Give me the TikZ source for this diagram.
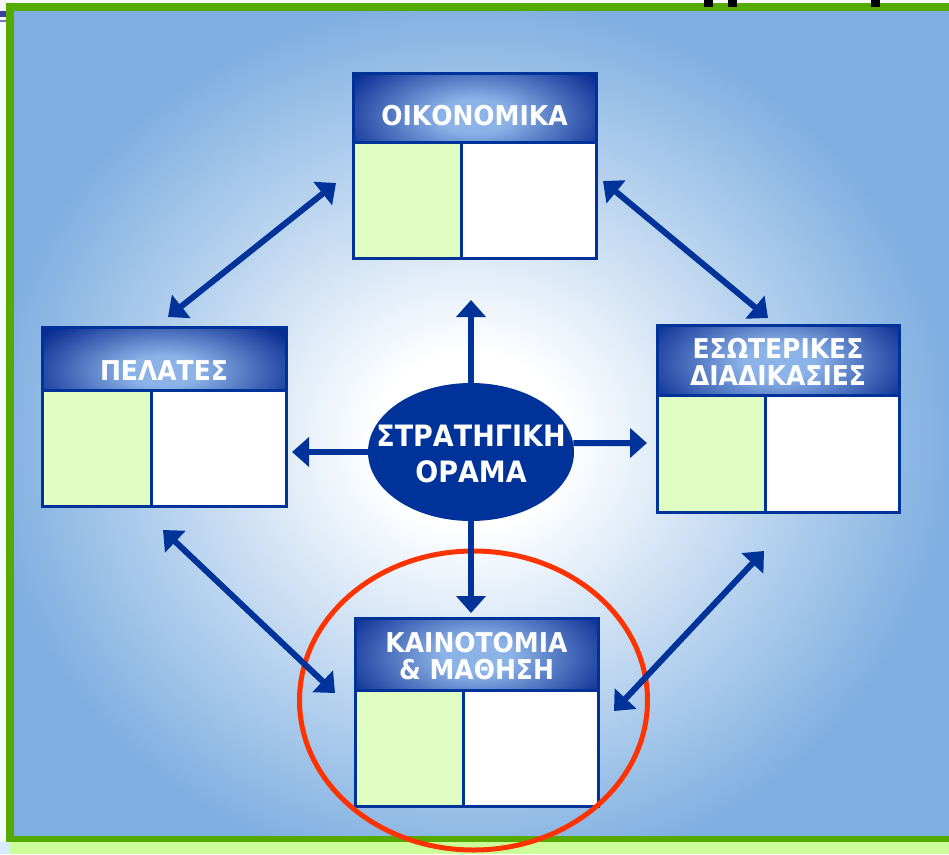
\documentclass[tikz,border=0pt]{standalone}
\usepackage{fontspec}
\newfontfamily\lblfont{DejaVu Sans}
\usetikzlibrary{arrows.meta,shapes.geometric}

\definecolor{navy}{HTML}{003399}
\definecolor{hdrblue}{HTML}{0A2D93}
\definecolor{glowblue}{HTML}{8CB3E8}
\definecolor{panelgreen}{HTML}{E0FDC2}
\definecolor{framegreen}{HTML}{55AA00}
\definecolor{bandgreen}{HTML}{CCFF99}
\definecolor{skyblue}{HTML}{7FAFE1}
\definecolor{ringred}{HTML}{FF3300}
\definecolor{paper}{HTML}{F4F8FD}
\definecolor{edgeblue}{HTML}{D6EBFF}
\definecolor{tabblue}{HTML}{3A40A0}

% soft white glow in the middle of the blue field
\pgfdeclareradialshading{fieldglow}{\pgfpoint{0bp}{0bp}}{%
  color(0bp)=(white); color(5bp)=(white); color(25bp)=(skyblue); color(50bp)=(skyblue)}
% light spot behind the header captions
\pgfdeclareradialshading{hdrglow}{\pgfpoint{0bp}{0bp}}{%
  color(0bp)=(glowblue); color(6bp)=(glowblue); color(25bp)=(hdrblue); color(50bp)=(hdrblue)}

\newcommand{\tallcap}[1]{\scalebox{1}[1.09]{#1}}

\tikzset{
  hdrtext/.style={text=white, align=center, inner sep=0pt,
    font=\lblfont\bfseries\fontsize{25}{26.5}\selectfont},
  panelbox/.style={rectangle, draw=navy, line width=3pt, inner sep=0pt, outer sep=0pt},
  dblarrow/.style={draw=navy, line width=6pt,
    {Triangle[length=17pt,width=29pt]}-{Triangle[length=17pt,width=29pt]}},
  rayarrow/.style={draw=navy, line width=6pt, -{Triangle[length=17pt,width=29pt]}},
}

% #1 name, #2 left, #3 top, #4 header bottom, #5 divider, #6 right, #7 bottom,
% #8 caption, #9 caption centre (vertical)
\newcommand{\bscpanel}[9]{%
  \fill[hdrblue] (#2,#3) rectangle (#6,#4);
  \begin{scope}
    \clip (#2,#3) rectangle (#6,#4);
    \shade[shading=hdrglow]
      ({(#2+#6)/2-0.6*(#6-#2)},{#9-1.0*(#4-#3)}) rectangle
      ({(#2+#6)/2+0.6*(#6-#2)},{#9+1.0*(#4-#3)});
  \end{scope}
  \node[hdrtext] (#1) at ({(#2+#6)/2},{#9}) {#8};
  \node[panelbox, fill=panelgreen, anchor=north west,
    minimum width={(#5-#2)*1pt}, minimum height={(#7-#4)*1pt}] (#1-l) at (#2,#4) {};
  \node[panelbox, fill=white, anchor=north west,
    minimum width={(#6-#5)*1pt}, minimum height={(#7-#4)*1pt}] (#1-r) at (#5,#4) {};
  \draw[navy, line width=3pt] (#2,#3) rectangle (#6,#7);
}

\begin{document}
\begin{tikzpicture}[x=1pt, y=-1pt]
  \useasboundingbox (0,0) rectangle (949,854);

  % page, frame and field
  \fill[paper] (0,0) rectangle (949,854);
  \fill[edgeblue] (0,842) rectangle (9,854);
  \fill[bandgreen] (9,842) rectangle (949,854);
  \fill[framegreen] (6,3) rectangle (949,842);
  \fill[skyblue] (14,11) rectangle (949,835);
  \begin{scope}
    \clip (14,11) rectangle (949,835);
    \shade[shading=fieldglow] (-10,0) rectangle (950,880);
  \end{scope}
  \fill[tabblue] (0,11) rectangle (6,17);
  \fill[tabblue!70!white] (0,20) rectangle (6,22);
  \fill[black] (704,0) rectangle (713,7);
  \fill[black] (728,0) rectangle (737,7);
  \fill[black] (871,0) rectangle (880,7);

  % the four perspectives
  \bscpanel{econ}{353}{73}{142}{461}{596}{258}{\tallcap{ΟΙΚΟΝΟΜΙΚΑ}}{116}
  \bscpanel{cust}{42}{327}{390}{151}{286}{506}{\tallcap{ΠΕΛΑΤΕΣ}}{371}
  \bscpanel{proc}{657}{325}{395}{765}{899}{512}{\tallcap{ΕΣΩΤΕΡΙΚΕΣ}\\\tallcap{ΔΙΑΔΙΚΑΣΙΕΣ}}{362}
  \bscpanel{learn}{355}{618}{690}{463}{598}{806}{\tallcap{ΚΑΙΝΟΤΟΜΙΑ}\\\tallcap{\&~ΜΑΘΗΣΗ}}{656}

  % strategy in the centre
  \node[ellipse, fill=navy, minimum width=206pt, minimum height=138pt, inner sep=0pt]
    (vision) at (471,452) {};
  \node[text=white, align=center, inner sep=0pt,
    font=\lblfont\bfseries\fontsize{27}{36}\selectfont]
    (vision-text) at (471,454) {\tallcap{ΣΤΡΑΤΗΓΙΚΗ}\\\tallcap{ΟΡΑΜΑ}};

  % highlight ring round the learning perspective
  \node[ellipse, draw=ringred, line width=5pt, minimum width=348pt,
    minimum height=299pt, inner sep=0pt] (ring) at (473.5,700.5) {};

  % arrow ends
  \coordinate (tip-up) at (471,300);
  \coordinate (tip-down) at (471,613);
  \coordinate (tip-left) at (292,452);
  \coordinate (tip-right) at (647,443);
  \coordinate (cu-a) at (168,317);
  \coordinate (cu-b) at (336,183);
  \coordinate (pr-a) at (603,181);
  \coordinate (pr-b) at (768,318);
  \coordinate (cl-a) at (163,530);
  \coordinate (cl-b) at (335,693);
  \coordinate (pl-a) at (764,551);
  \coordinate (pl-b) at (614,711);

  \draw[rayarrow] (vision.north) -- (tip-up);
  \draw[rayarrow] (vision.south) -- (tip-down);
  \draw[rayarrow] (vision.west) -- (tip-left);
  \draw[rayarrow] (vision.5) -- (tip-right);
  \draw[dblarrow] (cu-a) -- (cu-b);
  \draw[dblarrow] (pr-a) -- (pr-b);
  \draw[dblarrow] (cl-a) -- (cl-b);
  \draw[dblarrow] (pl-a) -- (pl-b);
\end{tikzpicture}
\end{document}
